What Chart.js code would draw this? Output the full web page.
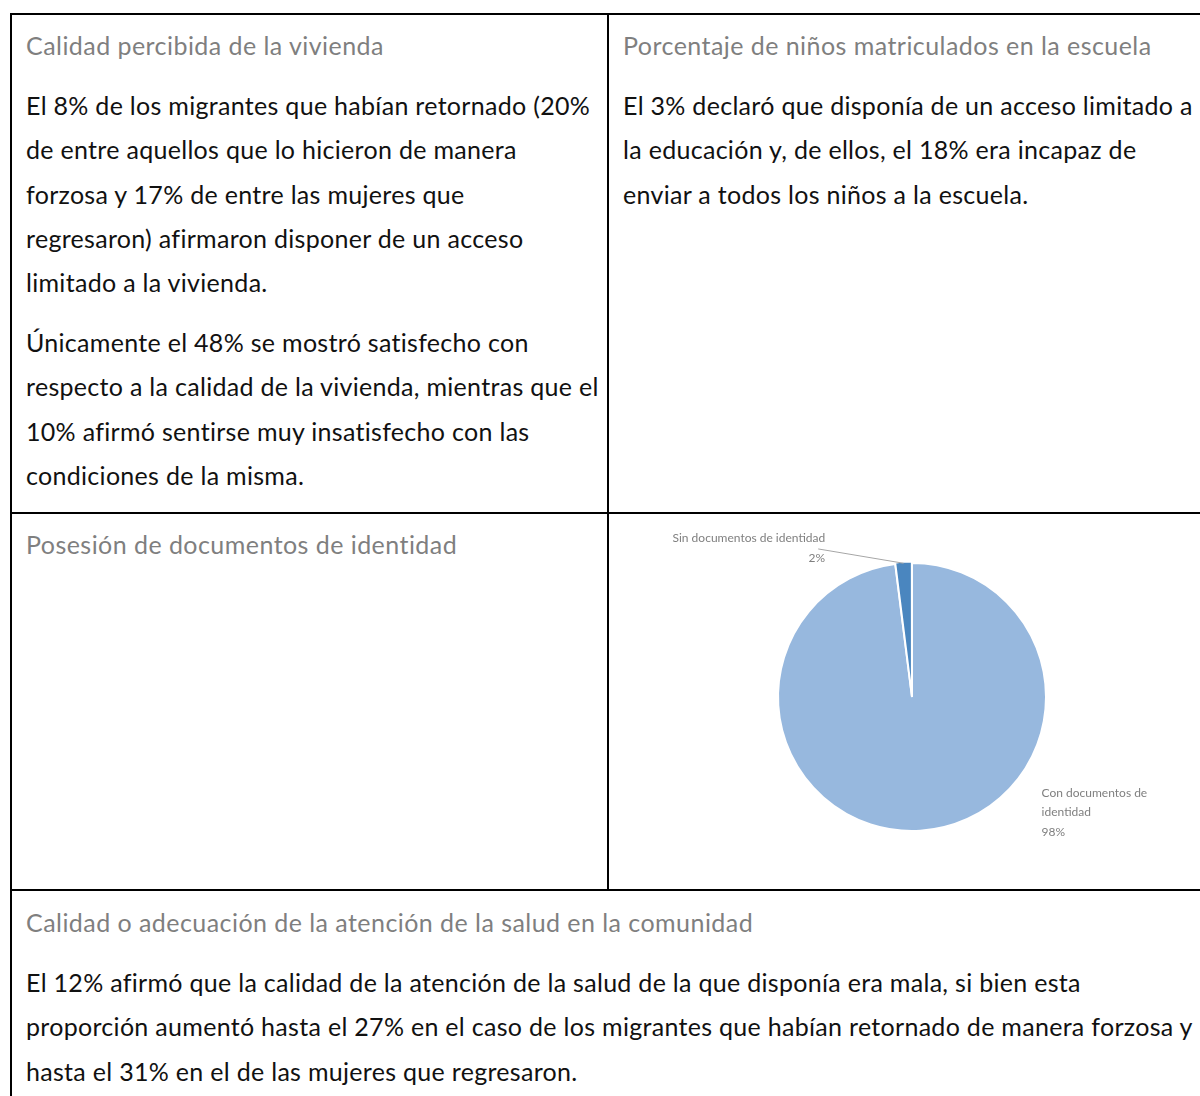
<!DOCTYPE html>
<html lang="es">
<head>
<meta charset="utf-8">
<title>Posesión de documentos de identidad</title>
<script src="https://cdn.jsdelivr.net/npm/chart.js@4/dist/chart.umd.min.js"></script>
<style>
  html, body { margin: 0; padding: 0; background: #fff; overflow: hidden; }
  body { width: 1200px; height: 1096px; position: relative; font-family: Lato, "Open Sans", sans-serif; }
  .cell { position: absolute; border: 2px solid #000; box-sizing: border-box; }
  .txt { position: absolute; font-size: 25px; letter-spacing: 0.3px; line-height: 44.25px; color: #111; white-space: nowrap; }
  .txt.h { color: #7f7f7f; letter-spacing: 0.45px; }
  #pieBox { position: absolute; left: 609px; top: 514px; width: 606px; height: 366px; }
</style>
</head>
<body>
<div class="cell" style="left:10px; top:13px; width:599px; height:501px;"></div>
<div class="cell" style="left:607px; top:13px; width:620px; height:501px;"></div>
<div class="cell" style="left:10px; top:512px; width:599px; height:379px;"></div>
<div class="cell" style="left:607px; top:512px; width:620px; height:379px;"></div>
<div class="cell" style="left:10px; top:889px; width:1217px; height:260px;"></div>

<div class="txt h" style="left:26px; top:23px;">Calidad percibida de la vivienda</div>
<div class="txt" style="left:26px; top:83px;">El 8% de los migrantes que habían retornado (20%<br>de entre aquellos que lo hicieron de manera<br>forzosa y 17% de entre las mujeres que<br>regresaron) afirmaron disponer de un acceso<br>limitado a la vivienda.</div>
<div class="txt" style="left:26px; top:320px;">Únicamente el 48% se mostró satisfecho con<br>respecto a la calidad de la vivienda, mientras que el<br>10% afirmó sentirse muy insatisfecho con las<br>condiciones de la misma.</div>

<div class="txt h" style="left:623px; top:23px;">Porcentaje de niños matriculados en la escuela</div>
<div class="txt" style="left:623px; top:83px;">El 3% declaró que disponía de un acceso limitado a<br>la educación y, de ellos, el 18% era incapaz de<br>enviar a todos los niños a la escuela.</div>

<div class="txt h" style="left:26px; top:522px;">Posesión de documentos de identidad</div>
<div id="pieBox"><canvas id="pie"></canvas></div>

<div class="txt h" style="left:26px; top:900px;">Calidad o adecuación de la atención de la salud en la comunidad</div>
<div class="txt" style="left:26px; top:960px;">El 12% afirmó que la calidad de la atención de la salud de la que disponía era mala, si bien esta<br>proporción aumentó hasta el 27% en el caso de los migrantes que habían retornado de manera forzosa y<br>hasta el 31% en el de las mujeres que regresaron.</div>

<script>
const categories = ["Con documentos de identidad", "Sin documentos de identidad"];
const shares = [98, 2];
const labelLines = [["Con documentos de", "identidad", "98%"], ["Sin documentos de identidad", "2%"]];
const sliceColors = ["#97b8de", "#4a86bf"];
const LABEL_GRAY = "#7f7f7f";

// outside labels, placed relative to each slice's outer edge
const sliceLabels = {
    id: "sliceLabels",
    afterDatasetsDraw(chart) {
        const ctx = chart.ctx;
        const arcs = chart.getDatasetMeta(0).data;
        ctx.save();
        ctx.font = "12px Lato, sans-serif";
        ctx.fillStyle = LABEL_GRAY;
        ctx.textBaseline = "middle";

        // big slice: text block to the lower right
        const a0 = arcs[0];
        const r = a0.outerRadius;
        ctx.textAlign = "left";
        labelLines[0].forEach((t, i) => {
            ctx.fillText(t, a0.x + r * 0.967, a0.y + r * 0.716 + i * 19.5);
        });

        // small slice: leader line to text top left
        const a1 = arcs[1];
        const mid = (a1.startAngle + a1.endAngle) / 2;
        const ex = a1.x + Math.cos(mid) * a1.outerRadius;
        const ey = a1.y + Math.sin(mid) * a1.outerRadius;
        const lx = a1.x - r * 0.70;
        const ly = a1.y - r * 1.105;
        ctx.strokeStyle = "#a6a6a6";
        ctx.lineWidth = 1;
        ctx.beginPath();
        ctx.moveTo(lx, ly);
        ctx.lineTo(ex, ey);
        ctx.stroke();
        ctx.textAlign = "right";
        labelLines[1].forEach((t, i) => {
            ctx.fillText(t, lx + 7, a1.y - r * 1.185 + i * 19.5);
        });
        ctx.restore();
    },
};

new Chart(document.getElementById("pie"), {
    type: "pie",
    data: {
        labels: categories,
        datasets: [
            {
                data: shares,
                backgroundColor: sliceColors,
                borderColor: "#ffffff",
                borderWidth: 2,
                offset: [0, 3],
                radius: 134,
            },
        ],
    },
    options: {
        responsive: true,
        maintainAspectRatio: false,
        animation: false,
        events: [],
        plugins: {
            legend: { display: false },
            tooltip: { enabled: false },
        },
    },
    plugins: [sliceLabels],
});
</script>
</body>
</html>
